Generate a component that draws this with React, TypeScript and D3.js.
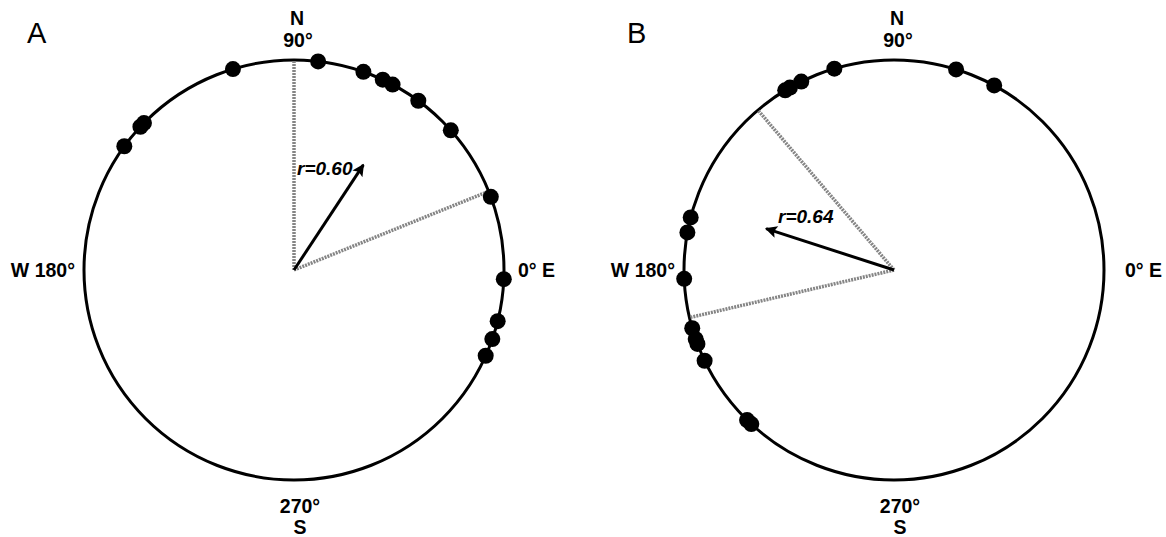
import React, { useEffect, useRef } from 'react';
import * as d3 from 'd3';

// angles in degrees, 0 = east, 90 = north (counter-clockwise)
const anglesA = [106.9, 83.4, 70.7, 65.0, 62.0, 53.7, 41.7, 20.4, 135.6, 137.0, 143.9, 357.5, 345.9, 340.8, 335.9];
const meanA = { angle: 56.6, r: 0.6 };
const ciA = [90, 22];

const anglesB = [106.5, 116.2, 119.7, 121.2, 72.8, 61.5, 165.5, 169.7, 182.4, 196.1, 199.2, 200.6, 205.6, 225.6, 227.2];
const meanB = { angle: 162.1, r: 0.64 };
const ciB = [130.4, 193.1];

const panels = [
  { key: 'A', cx: 294, cy: 270, angles: anglesA, mean: meanA, ci: ciA, rdx: 3, rdy: -95, eastDx: 224 },
  { key: 'B', cx: 894, cy: 270, angles: anglesB, mean: meanB, ci: ciB, rdx: -116, rdy: -47, eastDx: 231 },
];

const R = 210;

export default function App() {
  const ref = useRef<SVGSVGElement>(null);

  useEffect(() => {
    const svg = d3.select(ref.current);
    svg.selectAll('*').remove();

    const rScale = d3.scaleLinear().domain([0, 1]).range([0, R]);
    const rad = (deg: number) => (deg * Math.PI) / 180;
    const px = (deg: number, r: number) => [Math.cos(rad(deg)) * rScale(r), -Math.sin(rad(deg)) * rScale(r)];

    svg
      .append('defs')
      .append('marker')
      .attr('id', 'arrow')
      .attr('viewBox', '0 0 10 10')
      .attr('refX', 9)
      .attr('refY', 5)
      .attr('markerUnits', 'userSpaceOnUse')
      .attr('markerWidth', 22)
      .attr('markerHeight', 12)
      .attr('orient', 'auto')
      .append('path')
      .attr('d', 'M0,0 L10,5 L0,10 L2,5 Z')
      .attr('fill', '#000');

    const font = "'Liberation Sans', Arial, sans-serif";

    panels.forEach((p) => {
      const g = svg.append('g').attr('transform', `translate(${p.cx},${p.cy})`);

      g.append('circle').attr('r', rScale(1)).attr('fill', 'none').attr('stroke', '#000').attr('stroke-width', 3);

      // confidence lines
      p.ci.forEach((a) => {
        const [x, y] = px(a, 1);
        g.append('line')
          .attr('x1', 0)
          .attr('y1', 0)
          .attr('x2', x)
          .attr('y2', y)
          .attr('stroke', '#858585')
          .attr('stroke-width', 3.5)
          .attr('stroke-dasharray', '2 1');
      });

      // mean vector
      const [mx, my] = px(p.mean.angle, p.mean.r);
      g.append('line')
        .attr('x1', 0)
        .attr('y1', 0)
        .attr('x2', mx)
        .attr('y2', my)
        .attr('stroke', '#000')
        .attr('stroke-width', 3)
        .attr('marker-end', 'url(#arrow)');

      g.append('text')
        .attr('x', p.rdx)
        .attr('y', p.rdy)
        .attr('font-family', font)
        .attr('font-weight', 'bold')
        .attr('font-style', 'italic')
        .attr('font-size', 19)
        .text(`r=${p.mean.r.toFixed(2)}`);

      // dots
      g.selectAll('circle.dot')
        .data(p.angles)
        .enter()
        .append('circle')
        .attr('class', 'dot')
        .attr('cx', (d) => px(d, 1)[0])
        .attr('cy', (d) => px(d, 1)[1])
        .attr('r', 8)
        .attr('fill', '#000');

      const lab = (x: number, y: number, t: string, anchor: string) =>
        g.append('text')
          .attr('x', x)
          .attr('y', y)
          .attr('text-anchor', anchor)
          .attr('font-family', font)
          .attr('font-weight', 'bold')
          .attr('font-size', 19.5)
          .text(t);

      lab(3, -245, 'N', 'middle');
      lab(4, -223, '90°', 'middle');
      lab(-219, 7, 'W 180°', 'end');
      lab(p.eastDx, 7, '0° E', 'start');
      lab(6, 243, '270°', 'middle');
      lab(6, 264, 'S', 'middle');

      svg.append('text')
        .attr('x', p.cx - 267)
        .attr('y', 43)
        .attr('font-family', font)
        .attr('font-size', 29)
        .text(p.key);
    });
  }, []);

  return (
    <svg
      ref={ref}
      width={1166}
      height={537}
      style={{ position: 'absolute', left: 0, top: 0, background: '#fff' }}
    />
  );
}
